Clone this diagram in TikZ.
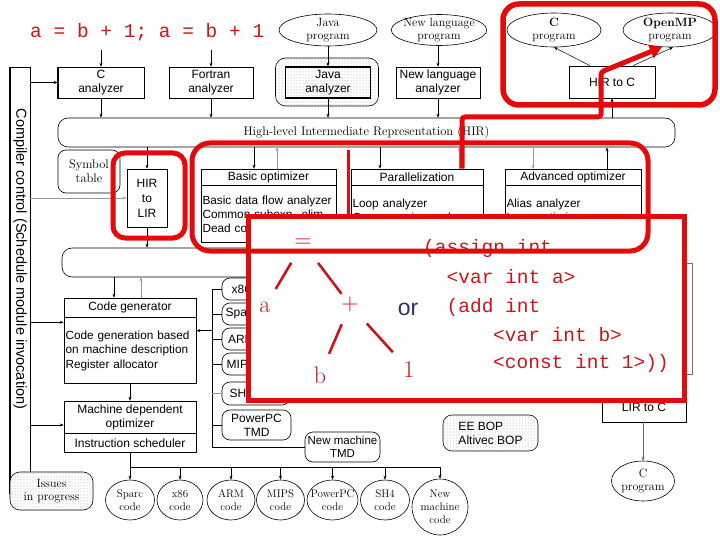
\documentclass[tikz,border=0pt]{standalone}
\usepackage{fontspec}
\setsansfont{Liberation Sans}
\setmonofont{Liberation Mono}
\usetikzlibrary{shapes.geometric,arrows.meta,patterns,calc}
\definecolor{hl}{RGB}{228,10,12}
\definecolor{rtext}{RGB}{200,22,26}
\definecolor{navy}{RGB}{48,48,104}
\begin{document}
\begin{tikzpicture}[x=1pt,y=-1pt,
  sftxt/.style={font=\fontsize{12}{14}\selectfont\sffamily},
  bodytxt/.style={font=\fontsize{11.8}{14}\selectfont\sffamily},
  rmtxt/.style={font=\fontsize{12}{13.5}\selectfont\rmfamily},
  box/.style={draw, line width=0.6pt, fill=white, inner sep=0pt, align=center, sftxt},
  rbox/.style={box, rounded corners=7pt},
  ell/.style={ellipse, draw, line width=0.6pt, fill=white, inner sep=-2pt, align=center, rmtxt},
  codeell/.style={ell, inner xsep=-4pt, minimum width=49, minimum height=40, font=\fontsize{11}{13}\selectfont\rmfamily},
  dotfill/.style={postaction={pattern=dots, pattern color=black!40}},
  tmdbox/.style={rbox, rounded corners=8pt, minimum width=68, minimum height=22},
  arr/.style={-{Stealth[length=4pt,width=3pt]}, line width=0.5pt},
  garr/.style={arr, draw=black!40},
  hlbox/.style={draw=hl, line width=5pt, inner sep=0pt},
  treeline/.style={draw=rtext, line width=2.6pt},
  treetxt/.style={text=rtext, font=\fontsize{24}{24}\selectfont\rmfamily, inner sep=0pt},
  sx/.style={text=rtext, font=\fontsize{19.5}{20}\selectfont\ttfamily, anchor=west, inner sep=0pt},
  bodybox/.style={box, anchor=north, inner xsep=1.5pt, align=left, bodytxt}
]
\useasboundingbox (0,0) rectangle (720,540);
\fill[white] (0,0) rectangle (720,540);

% ---------- source text and programs ----------
\node[sx] (src) at (30,32) {a = b + 1; a = b + 1};
\node[ell, minimum width=98, minimum height=32] (jp) at (328,30) {Java\\program};
\node[ell, minimum width=94, minimum height=31] (nlp) at (439,30) {New language\\program};
\node[ell, minimum width=94, minimum height=34] (cp) at (554,30) {\textbf{C}\\program};
\node[ell, minimum width=94, minimum height=34] (omp) at (670,30) {\textbf{OpenMP}\\program};

% ---------- compiler control bar ----------
\node[draw, line width=0.6pt, fill=white, minimum width=20, minimum height=426, inner sep=0pt] (bar) at (20,280) {};
\draw[line width=1.6pt] (bar.north west) -- (bar.south west) -- (bar.south east);
\node[rotate=-90, font=\fontsize{14.5}{16}\selectfont\sffamily, inner sep=0pt] (barl) at (20,259) {Compiler control (Schedule module invocation)};

% ---------- analyzers ----------
\node[box, minimum width=86, minimum height=31] (ca) at (101,82.5) {C\\analyzer};
\draw[line width=1.5pt] (ca.north west) -- (ca.south west) -- (ca.south east);
\node[box, minimum width=84, minimum height=31] (fa) at (211,82.5) {Fortran\\analyzer};
\node[rbox, dotfill, rounded corners=10pt, minimum width=103, minimum height=48] (jbg) at (327,82) {};
\node[box, dotfill, line width=1.2pt, minimum width=85, minimum height=31] (ja) at (328,82.5) {Java\\analyzer};
\node[box, minimum width=84, minimum height=31] (nla) at (438,82.5) {New language\\analyzer};
\node[box, minimum width=86, minimum height=32] (h2c) at (612,82) {HIR to C};

% ---------- HIR ----------
\node[draw, line width=0.6pt, fill=white, rounded corners=10pt, minimum width=617, minimum height=29, inner sep=0pt, font=\fontsize{12.5}{14}\selectfont\rmfamily] (hir) at (366.5,132.5) {High-level Intermediate Representation (HIR)};

\draw[arr] ($(ca.north)+(0,-17)$) -- (ca.north);
\draw[arr] ($(fa.north)+(0,-17)$) -- (fa.north);
\draw[arr] (jp.south) -- (ja.north);
\draw[arr] (nla.north |- nlp.south) -- (nla.north);
\draw[arr] (ca.south) -- (ca.south |- hir.north);
\draw[arr] (fa.south) -- (fa.south |- hir.north);
\draw[arr] (ja.south) -- (ja.south |- hir.north);
\draw[arr] (nla.south) -- (nla.south |- hir.north);
\draw[arr] (h2c.south |- hir.north) -- (h2c.south);
\draw[arr] ($(h2c.north)+(-22,0)$) -- (cp.south);
\draw[arr] ($(h2c.north)+(21,0)$) -- (omp.-80);
\draw[arr] (bar.east |- ca.west) -- (ca.west);

% ---------- middle row ----------
\node[draw, line width=0.6pt, fill=white, rounded corners=8pt, minimum width=62, minimum height=43, inner sep=0pt, align=center, font=\fontsize{12.5}{14}\selectfont\rmfamily] (sym) at (89,171.5) {Symbol\\table};
\node[box, minimum width=40, minimum height=58, font=\fontsize{12}{15}\selectfont\sffamily] (h2l) at (147,198) {HIR\\to\\LIR};

\node[box, minimum width=135, minimum height=16] (boh) at (268.5,177) {Basic optimizer};
\node[bodybox, minimum height=57, text width=132] (bob) at (boh.south) {Basic data flow analyzer\\Common subexp. elim.\\Dead code elim.};
\node[box, minimum width=132, minimum height=16] (pah) at (417,177) {Parallelization};
\node[bodybox, minimum height=57, text width=129, text depth=22pt] (pab) at (pah.south) {Loop analyzer\\Coarse grain parallelizer};
\node[box, minimum width=136, minimum height=16] (adh) at (573,177) {Advanced optimizer};
\node[bodybox, minimum height=57, text width=133, text depth=22pt] (adb) at (adh.south) {Alias analyzer\\Loop optimizer};

\node[draw, line width=0.6pt, fill=white, rounded corners=10pt, minimum width=606, minimum height=29, inner sep=0pt] (lir) at (365,262.5) {};

\draw[arr] (h2l.north |- hir.south) -- (h2l.north);
\draw[arr] (h2l.south) -- (h2l.south |- lir.north);
\draw[garr] (bar.east |- h2l.west) -- (h2l.west);
\coordinate (b1) at ($(boh.north)+(-14.5,0)$);
\coordinate (b2) at ($(boh.north)+(8.5,0)$);
\coordinate (p1) at ($(pah.north)+(-37,0)$);
\coordinate (p2) at ($(pah.north)+(42,0)$);
\coordinate (a1) at ($(adh.north)+(-40,0)$);
\coordinate (a2) at ($(adh.north)+(34,0)$);
\draw[arr] (b1 |- hir.south) -- (b1);
\draw[garr] (b2) -- (b2 |- hir.south);
\draw[arr] (p1 |- hir.south) -- (p1);
\draw[garr] (p2) -- (p2 |- hir.south);
\draw[garr] (a1 |- hir.south) -- (a1);
\draw[arr] (a2) -- (a2 |- hir.south);

% ---------- code generation ----------
\node[box, minimum width=132, minimum height=19] (cgh) at (130,307.5) {Code generator};
\node[bodybox, minimum height=66, text width=129, font=\fontsize{11.8}{14.5}\selectfont\sffamily] (cgb) at (cgh.south) {Code generation based\\on machine description\\Register allocator};
\node[box, minimum width=132, minimum height=32] (mdt) at (130,417) {Machine dependent\\optimizer};
\node[box, anchor=north, minimum width=132, minimum height=19] (mdb) at (mdt.south) {Instruction scheduler};

\coordinate (c1) at ($(cgh.north)+(-16,0)$);
\coordinate (c2) at ($(cgh.north)+(11,0)$);
\draw[arr] (c1 |- lir.south) -- (c1);
\draw[garr] (c2) -- (c2 |- lir.south);
\draw[arr] (cgb.south) -- (mdt.north);
\coordinate (cgin) at ($(cgb.north west)+(0,5)$);
\coordinate (mdin) at ($(mdt.west)+(0,8)$);
\draw[arr] (bar.east |- cgin) -- (cgin);
\draw[arr] (bar.east |- mdin) -- (mdin);

% ---------- TMDs ----------
\node[tmdbox] (t1) at (256,289) {x86 TMD};
\node[tmdbox] (t2) at (256,314) {Sparc TMD};
\node[tmdbox] (t3) at (256,339) {ARM TMD};
\node[tmdbox] (t4) at (256,364) {MIPS TMD};
\node[tmdbox, minimum height=23] (t5) at (256,393.5) {SH4 TMD};
\node[rbox, rounded corners=8pt, minimum width=69, minimum height=30] (t6) at (256.5,425) {PowerPC\\TMD};
\node[rbox, rounded corners=8pt, minimum width=75, minimum height=30, font=\fontsize{11.5}{13}\selectfont\sffamily] (nmt) at (342.5,447) {New machine\\TMD};
\coordinate (tv) at (212,289);
\draw[line width=0.5pt] (t1.west) -- (tv) -- (tv |- nmt.west) -- (nmt.west);
\draw[line width=0.5pt] (t2.west) -- (t2.west -| tv);
\draw[line width=0.5pt] (t3.west) -- (t3.west -| tv);
\draw[line width=0.5pt] (t4.west) -- (t4.west -| tv);
\draw[line width=0.5pt, black!40] (t5.west) -- (t5.west -| tv);
\draw[line width=0.5pt] (t6.west) -- (t6.west -| tv);
\coordinate (cgt) at ($(cgb.east)+(0,-20)$);
\draw[arr] (tv |- cgt) -- (cgt);

% ---------- right side ----------
\node[rbox, dotfill, rounded corners=9pt, minimum width=95, minimum height=36, align=left] (bop) at (490.5,433) {EE BOP\\Altivec BOP};
\node[draw=black!55, line width=0.6pt, minimum width=92, minimum height=111, inner sep=0pt] (hid) at (646,318.5) {};
\node[box, minimum width=84, minimum height=30] (l2c) at (644,407) {LIR to C};
\node[ell, minimum width=63, minimum height=40] (cp2) at (643,481) {C\\program};
\draw[arr, black!60] (cp2.north |- l2c.south) -- (cp2.north);

% ---------- output codes ----------
\node[rbox, dotfill, rmtxt, rounded corners=10pt, minimum width=83, minimum height=38] (iss) at (51.5,491) {Issues\\in progress};
\node[codeell] (k1) at (130,500) {Sparc\\code};
\node[codeell, minimum width=46] (k2) at (180,500) {x86\\code};
\node[codeell, minimum width=48] (k3) at (231,500) {ARM\\code};
\node[codeell, minimum width=48] (k4) at (280.5,500) {MIPS\\code};
\node[codeell, minimum width=51] (k5) at (332.5,500) {PowerPC\\code};
\node[codeell] (k6) at (385,500) {SH4\\code};
\node[codeell, minimum width=56, minimum height=56] (k7) at (440,507) {New\\machine\\code};
\coordinate (bus) at (130,467);
\draw[line width=0.5pt] (mdb.south) -- (bus) -- (bus -| k7.north);
\foreach \k in {k1,k2,k3,k4,k5,k6,k7}{\draw[arr] (\k.north |- bus) -- (\k.north);}

% ---------- overlay ----------
\node[hlbox, fill=white, minimum width=436, minimum height=183] (ov) at (466,308.5) {};
\node[treetxt] (eq) at (303,243) {=};
\node[treetxt] (na) at (265,307) {a};
\node[treetxt] (pl) at (350,305) {+};
\node[treetxt] (nb) at (320,375) {b};
\node[treetxt] (n1) at (409,370) {1};
\draw[treeline, shorten <=23pt, shorten >=21pt] (eq.center) -- (na.center);
\draw[treeline, shorten <=25pt, shorten >=14pt] (eq.center) -- (pl.center);
\draw[treeline, shorten <=21pt, shorten >=23pt] (pl.center) -- (nb.center);
\draw[treeline, shorten <=25pt, shorten >=24pt] (pl.center) -- (n1.center);
\node[text=navy, font=\fontsize{23}{23}\selectfont\sffamily, inner sep=0pt] (orw) at (408,309) {or};
\node[sx] (s1) at (423,248) {(assign int};
\node[sx] (s2) at (446.5,277) {<var int a>};
\node[sx] (s3) at (446.5,307) {(add int};
\node[sx] (s4) at (493,335) {<var int b>};
\node[sx] (s5) at (493,363) {<const int 1>))};

% ---------- highlights ----------
\node[hlbox, rounded corners=12pt, minimum width=72, minimum height=85] (hlB) at (149,195.5) {};
\node[hlbox, rounded corners=18pt, minimum width=456, minimum height=108] (hlC) at (420,197) {};
\node[hlbox, line width=5.5pt, rounded corners=16pt, minimum width=212, minimum height=101] (hlA) at (609,54.5) {};
\coordinate (rv) at (348,150);
\draw[draw=hl, line width=3pt] (rv) -- (rv |- ov.north);
\coordinate (ra) at ($(pah.north)+(45,0)$);
\draw[draw=hl, line width=5pt, rounded corners=3pt, -{Triangle[length=12pt,width=14pt]}] (ra) -- (462,117) -- (601,117) -- (601,72) -- (omp.-115);
\end{tikzpicture}
\end{document}
